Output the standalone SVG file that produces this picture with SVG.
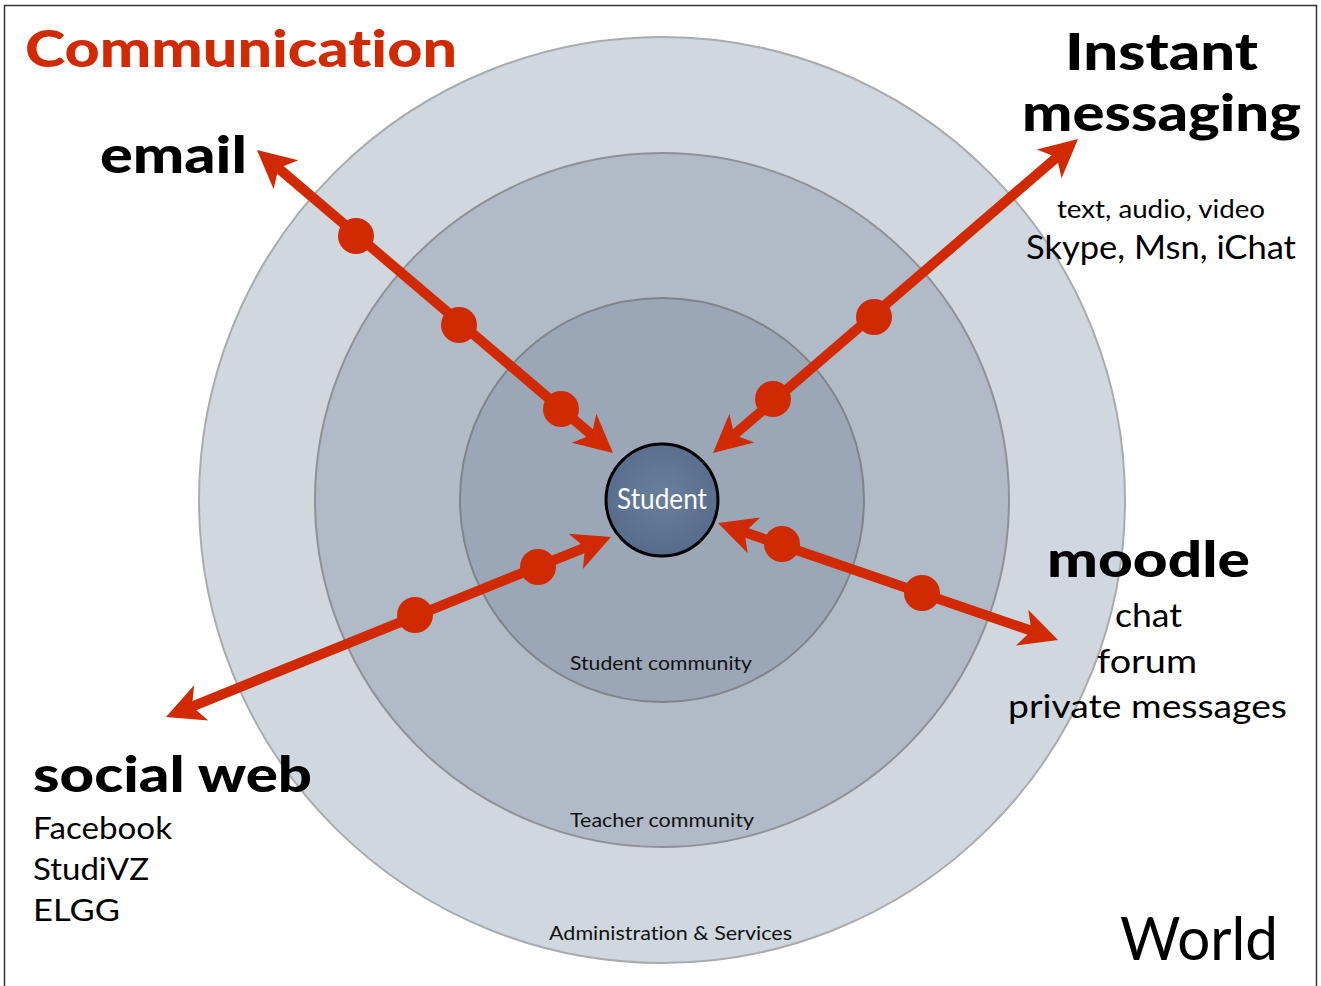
<svg xmlns="http://www.w3.org/2000/svg" width="1321" height="986" viewBox="0 0 1321 986">
<style>
text{font-variant-ligatures:none;}
.ring{stroke-width:2;}
.title{font-family:"Lato","Open Sans","Liberation Sans",sans-serif;font-weight:900;fill:#000;}
.body{font-family:"Lato","Open Sans","Liberation Sans",sans-serif;font-weight:400;fill:#000;}
.small{font-family:"Lato","Open Sans","Liberation Sans",sans-serif;font-weight:400;fill:#111;font-size:20px;}
.conn{stroke:#d12a00;stroke-width:10;fill:none;marker-start:url(#head);marker-end:url(#head);}
.dot{fill:#d12a00;}
</style>
<defs>
<marker id="head" viewBox="-40 -21 42 42" markerWidth="42" markerHeight="42" refX="-26" refY="0" orient="auto-start-reverse" markerUnits="userSpaceOnUse">
<path d="M0,0 L-38,-19 L-28,0 L-38,19 Z" fill="#d12a00"/>
</marker>
<radialGradient id="gStudent" cx="0.5" cy="0.45" r="0.6">
<stop offset="0" stop-color="#6a7f9c"/>
<stop offset="1" stop-color="#556a88"/>
</radialGradient>
</defs>
<rect x="4.5" y="5.5" width="1312" height="995" fill="#fff" stroke="#333" stroke-width="1.5"/>

<g id="world">
<circle cx="662" cy="500" r="463" fill="#d0d7df" stroke="#a9abad" class="ring"/>
<text class="body" x="1120" y="960" font-size="60" textLength="158" lengthAdjust="spacingAndGlyphs">World</text>
<text class="small" x="549" y="940" textLength="243" lengthAdjust="spacingAndGlyphs">Administration &amp; Services</text>
</g>
<g id="teacher-community">
<circle cx="662" cy="500" r="347" fill="#b1bbc7" stroke="#8e9297" class="ring"/>
<text class="small" x="570" y="827" textLength="184" lengthAdjust="spacingAndGlyphs">Teacher community</text>
</g>
<g id="student-community">
<circle cx="662" cy="500" r="202" fill="#9ba7b6" stroke="#7f838a" class="ring"/>
<text class="small" x="570" y="670" textLength="182" lengthAdjust="spacingAndGlyphs">Student community</text>
</g>

<g id="connectors">
<line class="conn" x1="276.8" y1="166.9" x2="593.2" y2="436.1"/>
<line class="conn" x1="1058.3" y1="156" x2="732.7" y2="436"/>
<line class="conn" x1="190.1" y1="707.3" x2="586.9" y2="546.8"/>
<line class="conn" x1="742.6" y1="531.5" x2="1033.4" y2="631.5"/>
<circle class="dot" cx="356" cy="236" r="18"/>
<circle class="dot" cx="459" cy="325" r="18"/>
<circle class="dot" cx="561" cy="409" r="18"/>
<circle class="dot" cx="874" cy="317" r="18"/>
<circle class="dot" cx="773" cy="399" r="18"/>
<circle class="dot" cx="415" cy="615" r="18"/>
<circle class="dot" cx="538" cy="567" r="18"/>
<circle class="dot" cx="782" cy="544" r="18"/>
<circle class="dot" cx="922" cy="593" r="18"/>
</g>

<g id="student">
<circle cx="662" cy="500" r="56" fill="url(#gStudent)" stroke="#000" stroke-width="3"/>
<text x="662" y="509" text-anchor="middle" font-family="Lato, 'Open Sans', 'Liberation Sans', sans-serif" font-size="28" fill="#fff" textLength="90" lengthAdjust="spacingAndGlyphs">Student</text>
</g>

<g id="communication">
<text x="25" y="67" font-family="Lato, 'Open Sans', 'Liberation Sans', sans-serif" font-weight="900" font-size="52" fill="#d12a00" textLength="432" lengthAdjust="spacingAndGlyphs">Communication</text>
</g>

<g id="email">
<text class="title" x="100" y="173" font-size="52" textLength="147" lengthAdjust="spacingAndGlyphs">email</text>
</g>

<g id="instant-messaging">
<text class="title" x="1065" y="70" font-size="52" textLength="193" lengthAdjust="spacingAndGlyphs">Instant</text>
<text class="title" x="1022" y="131" font-size="52" textLength="279" lengthAdjust="spacingAndGlyphs">messaging</text>
<text class="body" x="1057" y="218" font-size="25" textLength="208" lengthAdjust="spacingAndGlyphs">text, audio, video</text>
<text class="body" x="1026" y="259" font-size="33" textLength="270" lengthAdjust="spacingAndGlyphs">Skype, Msn, iChat</text>
</g>

<g id="moodle">
<text class="title" x="1047" y="577" font-size="50" textLength="203" lengthAdjust="spacingAndGlyphs">moodle</text>
<text class="body" x="1115" y="627" font-size="33" textLength="67" lengthAdjust="spacingAndGlyphs">chat</text>
<text class="body" x="1097" y="673" font-size="33" textLength="100" lengthAdjust="spacingAndGlyphs">forum</text>
<text class="body" x="1008" y="718" font-size="33" textLength="279" lengthAdjust="spacingAndGlyphs">private messages</text>
</g>

<g id="social-web">
<text class="title" x="33" y="792" font-size="50" textLength="279" lengthAdjust="spacingAndGlyphs">social web</text>
<text class="body" x="33" y="839" font-size="31" textLength="139" lengthAdjust="spacingAndGlyphs">Facebook</text>
<text class="body" x="33" y="880" font-size="31" textLength="116" lengthAdjust="spacingAndGlyphs">StudiVZ</text>
<text class="body" x="33" y="921" font-size="31" textLength="87" lengthAdjust="spacingAndGlyphs">ELGG</text>
</g>
</svg>
